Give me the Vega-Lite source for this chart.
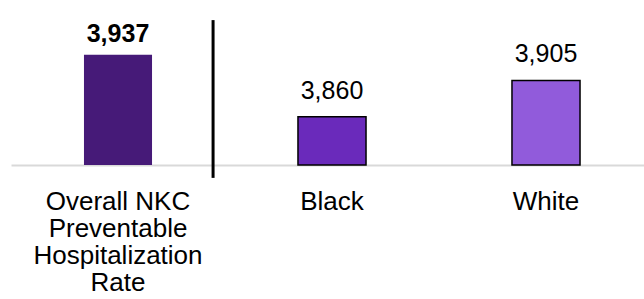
{
  "$schema": "https://vega.github.io/schema/vega-lite/v6.json",
  "autosize": {"type": "none"},
  "width": 633,
  "height": 161,
  "padding": {"left": 11, "top": 4, "right": 0, "bottom": 134},
  "config": {
    "view": {"stroke": null},
    "font": "Liberation Sans"
  },
  "data": {
    "values": [
      {"category": "Overall NKC Preventable Hospitalization Rate", "rate": 3937},
      {"category": "Black", "rate": 3860},
      {"category": "White", "rate": 3905}
    ]
  },
  "encoding": {
    "x": {
      "field": "category",
      "type": "nominal",
      "sort": null,
      "scale": {"range": [0, 642], "paddingInner": 0.682, "paddingOuter": 0.341},
      "axis": {
        "title": null,
        "labelAngle": 0,
        "ticks": false,
        "tickSize": 0,
        "labelPadding": 23,
        "labelFont": "Liberation Sans",
        "labelFontSize": 26,
        "labelColor": "#000000",
        "labelLineHeight": 27,
        "labelLimit": 400,
        "labelExpr": "datum.label == 'Overall NKC Preventable Hospitalization Rate' ? ['Overall NKC', 'Preventable', 'Hospitalization', 'Rate'] : datum.label",
        "domainColor": "#d9d9d9",
        "domainWidth": 2,
        "grid": false
      }
    },
    "y": {
      "field": "rate",
      "type": "quantitative",
      "scale": {"domain": [3800, 4000], "zero": false, "nice": false},
      "axis": null
    }
  },
  "layer": [
    {
      "mark": {"type": "bar", "stroke": "#000000"},
      "encoding": {
        "y2": {"datum": 3800},
        "color": {
          "field": "category",
          "type": "nominal",
          "scale": {
            "domain": ["Overall NKC Preventable Hospitalization Rate", "Black", "White"],
            "range": ["#461a78", "#6a2abb", "#915bdb"]
          },
          "legend": null
        },
        "strokeWidth": {
          "condition": {"test": "datum.category == 'Overall NKC Preventable Hospitalization Rate'", "value": 0},
          "value": 1.5
        }
      }
    },
    {
      "transform": [{"filter": "datum.category == 'Overall NKC Preventable Hospitalization Rate'"}],
      "mark": {"type": "text", "font": "Liberation Sans", "fontSize": 25, "fontWeight": "bold", "color": "#000000", "baseline": "alphabetic", "dy": -13},
      "encoding": {"text": {"field": "rate", "type": "quantitative", "format": ","}}
    },
    {
      "transform": [{"filter": "datum.category != 'Overall NKC Preventable Hospitalization Rate'"}],
      "mark": {"type": "text", "font": "Liberation Sans", "fontSize": 25, "color": "#000000", "baseline": "alphabetic", "dy": -18},
      "encoding": {"text": {"field": "rate", "type": "quantitative", "format": ","}}
    },
    {
      "data": {"values": [{"category": "Overall NKC Preventable Hospitalization Rate", "top": 3980, "bottom": 3784}]},
      "mark": {"type": "rule", "color": "#000000", "strokeWidth": 3},
      "encoding": {
        "x": {"field": "category", "type": "nominal", "bandPosition": 1.897},
        "y": {"field": "top", "type": "quantitative"},
        "y2": {"field": "bottom"}
      }
    }
  ]
}
